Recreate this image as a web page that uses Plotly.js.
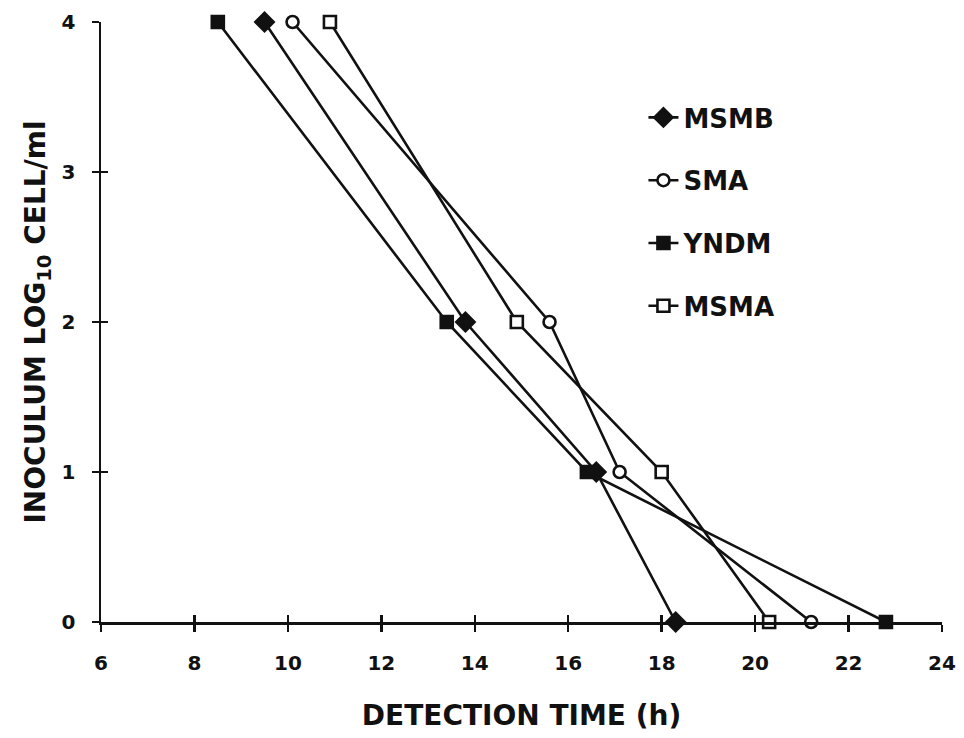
<!DOCTYPE html>
<html><head><meta charset="utf-8">
<script src="https://cdn.plot.ly/plotly-3.0.1.min.js"></script>
<style>body{margin:0;background:#fff}#c{width:964px;height:738px}</style>
</head><body><div id="c"></div>
<script>
const inoculum = [4, 2, 1, 0];
const msmb = [9.5, 13.8, 16.6, 18.3];
const sma  = [10.1, 15.6, 17.1, 21.2];
const yndm = [8.5, 13.4, 16.4, 22.8];
const msma = [10.9, 14.9, 18.0, 20.3];
const seriesNames = ['MSMB', 'SMA', 'YNDM', 'MSMA'];
const xTicks = [6, 8, 10, 12, 14, 16, 18, 20, 22, 24];
const yTicks = [0, 1, 2, 3, 4];

const ink = '#111';
function tr(name, xs, symbol, fill, size, order){
  return {x: xs, y: inoculum, name: name, type:'scatter', mode:'lines+markers',
    legendgroup: name, legendrank: order, cliponaxis:false,
    line:{color: ink, width: 2.6},
    marker:{symbol: symbol, size: size, color: fill, line:{color: ink, width: 2.6}}};
}
const data = [
  tr(seriesNames[0], msmb, 'diamond', ink, 14, 1),
  tr(seriesNames[1], sma, 'circle', '#fff', 12, 2),
  tr(seriesNames[2], yndm, 'square', ink, 12, 3),
  tr(seriesNames[3], msma, 'square', '#fff', 12, 4),
  {x:[6], y:[0], xaxis:'x2', yaxis:'y2', mode:'markers', marker:{opacity:0}, showlegend:false, hoverinfo:'skip'}
];
const tf = {family:'DejaVu Sans, sans-serif', size:20, color: ink, weight:'bold'};
const layout = {
  width:964, height:738,
  margin:{l:101, r:22, t:22, b:116},
  paper_bgcolor:'#fff', plot_bgcolor:'#fff',
  font:{family:'DejaVu Sans, sans-serif', color: ink},
  showlegend:true,
  legend:{x:0.645, y:0.88, xanchor:'left', yanchor:'top', bgcolor:'rgba(0,0,0,0)',
    font:{family:'DejaVu Sans, sans-serif', size:26, color: ink, weight:'bold'},
    tracegroupgap:26, itemwidth:30, traceorder:'grouped'},
  xaxis:{range:[6,24], tickvals:xTicks, ticktext:xTicks.map(String), showgrid:false, zeroline:false,
    showline:true, linecolor:ink, linewidth:2.5, ticks:'outside', ticklen:7, tickwidth:2.5, tickcolor:ink,
    tickfont:tf, ticklabelstandoff:14,
    title:{text:'DETECTION TIME (h)', font:{family:'DejaVu Sans, sans-serif', size:28, color:ink, weight:'bold'}, standoff:32}},
  yaxis:{range:[0,4], tickvals:yTicks, ticktext:yTicks.map(String), showgrid:false, zeroline:false,
    showline:true, linecolor:ink, linewidth:2.5, ticks:'outside', ticklen:7, tickwidth:2.5, tickcolor:ink,
    tickfont:tf, ticklabelstandoff:12,
    title:{text:'INOCULUM LOG<sub>10</sub> CELL/ml', font:{family:'DejaVu Sans, sans-serif', size:28, color:ink, weight:'bold'}, standoff:8}},
  xaxis2:{range:[6,24], overlaying:'x', tickvals:xTicks, showticklabels:false, showgrid:false, zeroline:false,
    ticks:'inside', ticklen:7, tickwidth:2.5, tickcolor:ink, showline:false},
  yaxis2:{range:[0,4], overlaying:'y', tickvals:yTicks, showticklabels:false, showgrid:false, zeroline:false,
    ticks:'inside', ticklen:7, tickwidth:2.5, tickcolor:ink, showline:false}
};
Plotly.newPlot('c', data, layout, {displayModeBar:false, staticPlot:true});
</script></body></html>
